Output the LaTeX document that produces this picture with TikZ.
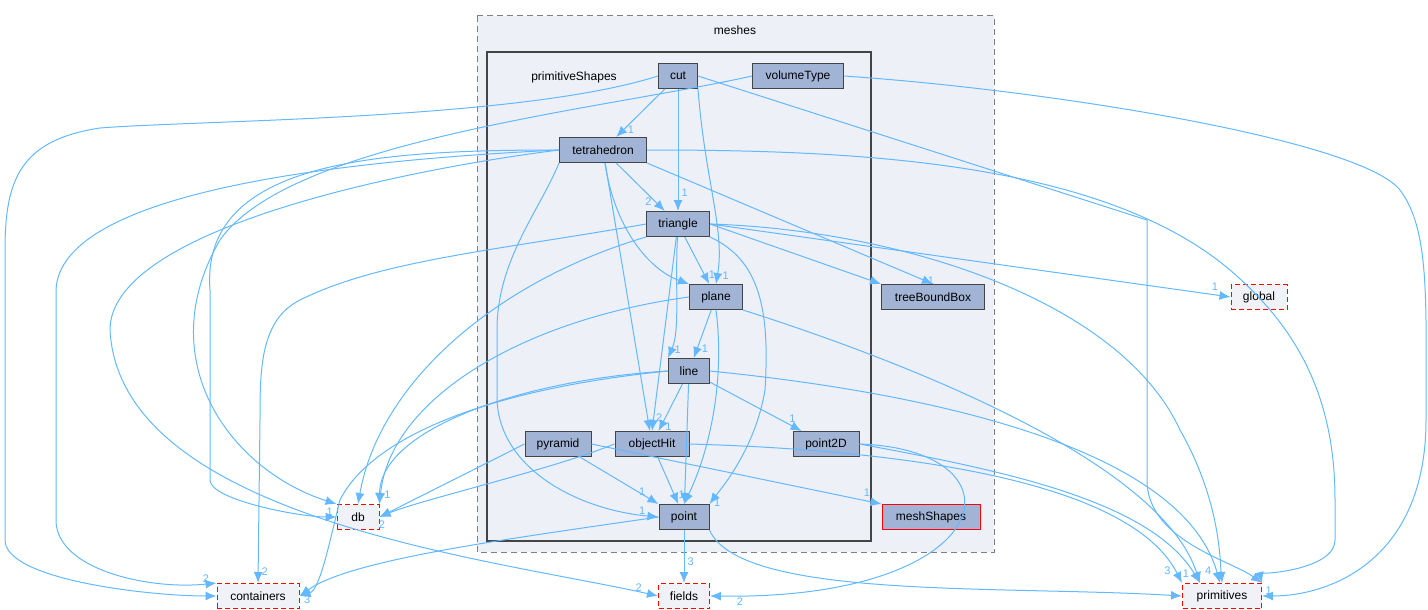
\documentclass[tikz,border=0pt]{standalone}
\usepackage{fontspec}
\setmainfont{Liberation Sans}
\usetikzlibrary{arrows.meta,positioning}

\definecolor{edgeblue}{HTML}{63B8FF}
\definecolor{nodefill}{HTML}{A2B4D6}
\definecolor{nodeline}{HTML}{444444}
\definecolor{clusterfill}{HTML}{EDF0F7}
\definecolor{extfill}{HTML}{F0F2F8}

\tikzset{
  dir/.style={draw=nodeline, fill=nodefill, line width=1pt, minimum height=25pt, inner xsep=6pt, font=\fontsize{12}{14}\selectfont},
  ext/.style={draw=red, dashed, dash pattern=on 5pt off 3pt, fill=extfill, line width=1pt, minimum height=25pt, inner xsep=6pt, font=\fontsize{12}{14}\selectfont},
  dep/.style={draw=edgeblue, line width=1pt, -{Latex[length=11pt,width=9pt]}},
  num/.style={text=edgeblue, font=\fontsize{11}{12}\selectfont, inner sep=1pt}
}

\begin{document}
\begin{tikzpicture}[x=1pt,y=-1pt]
    \useasboundingbox (0,0) rectangle (1428,610);

    % meshes cluster
    \draw[gray, dashed, dash pattern=on 6pt off 4pt, fill=clusterfill, line width=1pt] (477,16) rectangle (994,552);
    \node[font=\fontsize{12}{14}\selectfont] (meshesLbl) at (735,30) {meshes};
    % primitiveShapes cluster
    \draw[nodeline, fill=clusterfill, line width=2pt] (487,52) rectangle (871,541);
    \node[font=\fontsize{12}{14}\selectfont] (primLbl) at (574,77) {primitiveShapes};

    % directories
    \node[dir, minimum width=39pt] (cut) at (678,76) {cut};
    \node[dir, minimum width=91pt] (volumeType) at (798,76) {volumeType};
    \node[dir, minimum width=87pt] (tetrahedron) at (603,150) {tetrahedron};
    \node[dir, minimum width=63pt] (triangle) at (678,224) {triangle};
    \node[dir, minimum width=53pt] (plane) at (716,297) {plane};
    \node[dir, minimum width=41pt] (line) at (689,371) {line};
    \node[dir, minimum width=66pt] (pyramid) at (558,444) {pyramid};
    \node[dir, minimum width=74pt] (objectHit) at (652,444) {objectHit};
    \node[dir, minimum width=66pt] (point2D) at (826,444) {point2D};
    \node[dir, minimum width=50pt] (point) at (684,517) {point};
    \node[dir, minimum width=103pt] (treeBoundBox) at (933,297) {treeBoundBox};
    \node[dir, draw=red, minimum width=98pt] (meshShapes) at (931,517) {meshShapes};

    % external directories
    \node[ext, minimum width=42pt] (db) at (358,517) {db};
    \node[ext, minimum width=56pt] (global) at (1259,297) {global};
    \node[ext, minimum width=82pt] (containers) at (258,596) {containers};
    \node[ext, minimum width=51pt] (fields) at (684,596) {fields};
    \node[ext, minimum width=79pt] (primitives) at (1222,596) {primitives};

    % cut
    \draw[dep] (cut) -- (tetrahedron) node[num, pos=0.85, right=3pt] {1};
    \draw[dep] (cut) -- (triangle) node[num, pos=0.85, right=2pt] {1};
    \draw[dep] (cut.south east) .. controls (705,180) and (725,230) .. (plane.north) node[num, pos=0.95, right=4pt] {1};
    \draw[dep] (cut.west) .. controls (520,120) and (200,120) .. (100,128) .. controls (20,140) and (5,180) .. (5,250) -- (5,540) .. controls (5,580) and (150,596) .. (containers.west);
    \draw[dep] (cut.east) -- (1147,220) -- (1147,480) .. controls (1147,540) and (1230,560) .. (primitives.north east);

    % volumeType
    \draw[dep] (volumeType.west) .. controls (600,110) and (290,140) .. (220,240) .. controls (150,360) and (230,470) .. (db.north west);
    \draw[dep] (volumeType.east) .. controls (1050,90) and (1360,140) .. (1400,190) .. controls (1430,230) and (1426,300) .. (1426,420) .. controls (1426,560) and (1330,596) .. (primitives.east) node[num, pos=0.99, above right=0pt] {1};

    % tetrahedron
    \draw[dep] (tetrahedron) -- (triangle) node[num, pos=0.8, left=2pt] {2};
    \draw[dep] (tetrahedron) .. controls (615,230) and (650,270) .. (plane.north west);
    \draw[dep] (tetrahedron) -- (objectHit) ;
    \draw[dep] (tetrahedron.south west) .. controls (540,210) and (497,260) .. (497,330) -- (497,400) .. controls (500,470) and (580,510) .. (point.west) node[num, pos=0.95, above left=0pt] {1};
    \draw[dep] (tetrahedron.south east) -- (treeBoundBox.north) node[num, pos=0.97, right=2pt] {1};
    \draw[dep] (tetrahedron.west) .. controls (380,150) and (200,160) .. (210,290) -- (210,480) .. controls (210,500) and (300,517) .. (db.west) node[num, pos=0.98, above left=0pt] {1};
    \draw[dep] (tetrahedron.west) .. controls (350,160) and (60,190) .. (56,290) -- (56,520) .. controls (56,570) and (150,590) .. (containers.north west) node[num, pos=0.97, above left=0pt] {2};
    \draw[dep] (tetrahedron.west) .. controls (400,170) and (110,230) .. (110,330) .. controls (120,520) and (500,560) .. (fields.west) node[num, pos=0.97, above left=0pt] {2};
    \draw[dep] (tetrahedron.east) .. controls (850,150) and (1100,160) .. (1230,270) .. controls (1300,330) and (1335,400) .. (1335,500) -- (1335,540) .. controls (1335,570) and (1260,575) .. (primitives.north east);

    % triangle
    \draw[dep] (triangle) -- (plane) node[num, pos=0.8, right=3pt] {1};
    \draw[dep] (triangle) .. controls (675,290) and (680,330) .. (line.north west) node[num, pos=0.9, right=2pt] {1};
    \draw[dep] (triangle) -- (objectHit.north) node[num, pos=0.93, right=1pt] {2};
    \draw[dep] (triangle.south east) .. controls (760,260) and (770,310) .. (765,390) .. controls (755,450) and (720,490) .. (point.north east) node[num, pos=0.97, right=2pt] {1};
    \draw[dep] (triangle.east) -- (treeBoundBox.north west);
    \draw[dep] (triangle.east) -- (global.west) node[num, pos=0.97, above=3pt] {1};
    \draw[dep] (triangle.east) .. controls (900,230) and (1120,300) .. (1180,430) .. controls (1220,500) and (1220,560) .. (primitives.north);
    \draw[dep] (triangle.west) .. controls (500,250) and (380,260) .. (300,300) .. controls (260,320) and (260,370) .. (260,420) -- (containers.north) node[num, pos=0.93, right=2pt] {2};
    \draw[dep] (triangle.south west) .. controls (500,280) and (380,380) .. (db.north);

    % plane
    \draw[dep] (plane) -- (line) node[num, pos=0.8, right=3pt] {1};
    \draw[dep] (plane.south) .. controls (725,380) and (710,450) .. (point.north);
    \draw[dep] (plane.west) .. controls (520,320) and (390,400) .. (db.north east) node[num, pos=0.97, right=2pt] {1};
    \draw[dep] (plane.south east) .. controls (900,360) and (1160,460) .. (1200,583);

    % line
    \draw[dep] (line) -- (objectHit) node[num, pos=0.9, right=3pt] {1};
    \draw[dep] (line) -- (point) ;
    \draw[dep] (line) -- (point2D) node[num, pos=0.9, above=2pt] {1};
    \draw[dep] (line.west) .. controls (520,380) and (380,430) .. (db.north east);
    \draw[dep] (line.west) .. controls (480,390) and (370,440) .. (340,500) .. controls (330,540) and (320,590) .. (containers.east) node[num, pos=0.95, below right=0pt] {3};
    \draw[dep] (line.east) .. controls (900,390) and (1180,440) .. (1220,583) node[num, pos=0.97, left=3pt] {4};

    % objectHit, pyramid, point2D
    \draw[dep] (objectHit) -- (point) node[num, pos=0.8, right=3pt] {1};
    \draw[dep] (objectHit.west) .. controls (550,470) and (420,500) .. (db.east) node[num, pos=0.98, below=3pt] {2};
    \draw[dep] (objectHit.east) .. controls (900,450) and (1130,480) .. (primitives.north west) node[num, pos=0.96, left=3pt] {3};
    \draw[dep] (pyramid) -- (point.north west) node[num, pos=0.85, above left=0pt] {1};
    \draw[dep] (pyramid.west) -- (db.east);
    \draw[dep] (pyramid.east) -- (meshShapes.north west) node[num, pos=0.95, above=3pt] {1};
    \draw[dep] (point2D.east) .. controls (1030,450) and (1000,600) .. (fields.east) node[num, pos=0.97, below right=0pt] {2};
    \draw[dep] (point2D.east) .. controls (1000,470) and (1150,500) .. (1200,583) node[num, pos=0.96, left=3pt] {1};

    % point
    \draw[dep] (point) -- (fields) node[num, pos=0.6, right=2pt] {3};
    \draw[dep] (point.west) .. controls (500,540) and (350,560) .. (containers.east);
    \draw[dep] (point.south east) .. controls (740,600) and (1000,585) .. (primitives.west);
\end{tikzpicture}
\end{document}
